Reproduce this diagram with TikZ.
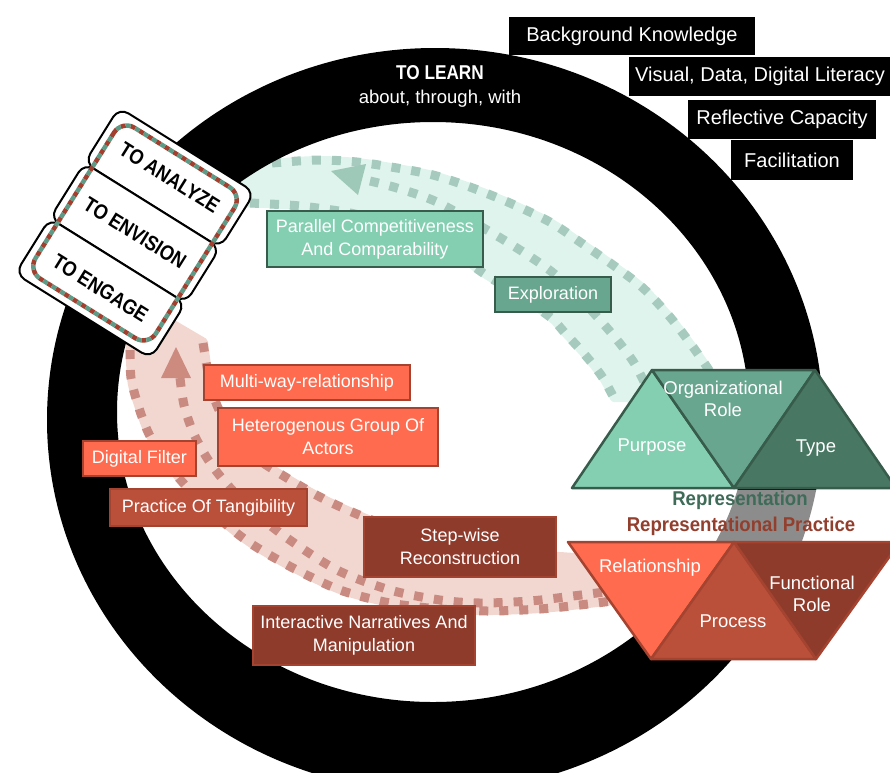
\documentclass[tikz,border=0pt]{standalone}
\usepackage{fontspec}
\setmainfont{Liberation Sans}
\newfontfamily\narrowfont{Liberation Sans}[FakeStretch=0.86]
\newfontfamily\repfont{Liberation Sans}[FakeStretch=0.93]
\usetikzlibrary{shapes.geometric}

\definecolor{cMintA}{HTML}{84CFB2}
\definecolor{cMintB}{HTML}{69A690}
\definecolor{cMintC}{HTML}{487763}
\definecolor{cGreenEdge}{HTML}{375C4C}
\definecolor{cCoral}{HTML}{FF6B4E}
\definecolor{cRust}{HTML}{BA4F3A}
\definecolor{cBrick}{HTML}{8F3B2C}
\definecolor{cRedEdge}{HTML}{A4432F}
\definecolor{cMintBand}{HTML}{DFF4EC}
\definecolor{cMintDot}{HTML}{A6CBBE}
\definecolor{cMintHead}{HTML}{9EC8B8}
\definecolor{cPinkBand}{HTML}{F2D7D0}
\definecolor{cPinkDot}{HTML}{C98B81}
\definecolor{cPinkHead}{HTML}{CD8B80}
\definecolor{cRepGreen}{HTML}{3F6B59}
\definecolor{cRepRed}{HTML}{933F2E}
\definecolor{cBadgeRed}{HTML}{A23F2E}
\definecolor{cBadgeGreen}{HTML}{5E9A86}

\begin{document}
\begin{tikzpicture}[x=1pt,y=-1pt,
  lbl/.style={font=\fontsize{18}{23}\selectfont, text=white, align=center,
              inner sep=0pt, line width=2.5pt},
  mintbox/.style={lbl, fill=cMintA, draw=cGreenEdge},
  sagebox/.style={lbl, fill=cMintB, draw=cGreenEdge},
  coralbox/.style={lbl, fill=cCoral, draw=cRedEdge},
  rustbox/.style={lbl, fill=cRust, draw=cRedEdge},
  brickbox/.style={lbl, fill=cBrick, draw=cRedEdge},
  blackbox/.style={fill=black, text=white, font=\fontsize{20}{24}\selectfont,
                   inner sep=0pt},
  trilbl/.style={font=\fontsize{18.5}{22}\selectfont, text=white, align=center,
                 inner sep=0pt},
  greentri/.style={draw=cGreenEdge, line width=2.5pt, line join=round},
  redtri/.style={draw=cRedEdge, line width=2.5pt, line join=round},
  mintdots/.style={draw=cMintDot, line width=9pt, dash pattern=on 9pt off 11pt},
  pinkdots/.style={draw=cPinkDot, line width=9pt, dash pattern=on 9pt off 11pt},
  badgebox/.style={draw=black, fill=white, line width=2pt, rounded corners=11pt,
                   minimum width=160pt, minimum height=65.3pt, inner sep=0pt,
                   transform shape,
                   font=\narrowfont\fontsize{21}{24}\selectfont\bfseries},
  badgedotA/.style={draw=cBadgeRed, line width=4.5pt, dash pattern=on 5pt off 5pt,
                    rounded corners=15pt},
  badgedotB/.style={draw=cBadgeGreen, line width=4.5pt, dash pattern=on 5pt off 5pt,
                    dash phase=5pt, rounded corners=15pt}
]
\useasboundingbox (0,0) rectangle (890,772);
\clip (0,0) rectangle (890,772);

% ---- green flow band (Representation -> badge)
\filldraw[fill=cMintBand, draw=cMintBand, line width=8pt, line join=round]
  plot[smooth] coordinates {(238,168) (273,163) (317,160) (357,162) (397,168)
       (433,175) (470,187) (510,203) (550,222) (580,242) (613,265) (643,288)
       (670,317) (693,347) (712,375) (724,400)}
  -- plot[smooth] coordinates {(614,398) (603,378) (591,362) (578,347) (565,333)
       (550,317) (515,293) (483,273) (445,246) (400,226) (350,213) (300,206)
       (238,203)} -- cycle;
\draw[mintdots] plot[smooth] coordinates {(272,163) (317,160) (357,162) (397,168)
       (433,175) (470,187) (510,203) (550,222) (580,242) (613,265) (643,288)
       (670,317) (693,347) (712,375) (724,400)};
\draw[mintdots] plot[smooth] coordinates {(370,181) (397,188) (437,202) (487,230)
       (520,250) (552,272) (578,296) (600,320) (613,335) (625,350) (636,366)
       (648,390)};
\draw[mintdots] plot[smooth] coordinates {(250,203) (300,206) (350,213) (400,226)
       (445,246) (483,273) (515,293) (550,317) (565,333) (578,347) (591,362)
       (603,378) (614,398)};
\fill[cMintHead] (331,171) -- (366,164) -- (358,195) -- cycle;

% ---- pink flow band (Representational Practice -> badge)
\filldraw[fill=cPinkBand, draw=cPinkBand, line width=8pt, line join=round]
  plot[smooth] coordinates {(129,322) (131,378) (138,405) (148,432) (163,458)
       (185,485) (215,515) (250,543) (293,568) (340,590) (390,603) (440,609)
       (490,611) (540,609) (580,605) (620,600)}
  -- plot[smooth] coordinates {(620,560) (560,556) (520,553) (450,543) (385,525)
       (352,512) (320,497) (287,478) (252,455) (230,430) (216,403) (209,378)
       (204,342)} -- (170,322) -- cycle;
\draw[pinkdots] plot[smooth] coordinates {(130,350) (131,378) (138,405) (148,432)
       (163,458) (185,485) (215,515) (250,543) (293,568) (340,590) (390,603)
       (440,609) (490,611) (540,609) (580,605) (620,600)};
\draw[pinkdots] plot[smooth] coordinates {(180,378) (184,405) (193,432) (207,458)
       (225,482) (252,510) (287,538) (337,570) (390,590) (440,600) (480,603)
       (530,601) (573,596) (620,590)};
\draw[pinkdots] plot[smooth] coordinates {(203,343) (209,378) (216,403) (230,430)
       (252,455) (287,478) (320,497) (352,512) (385,525) (410,533)};
\fill[cPinkHead] (176,347) -- (191,378) -- (161,378) -- cycle;

% ---- black ring
\fill[black, even odd rule]
  (435,420) ellipse [x radius=388pt, y radius=372pt]
  (433,412) ellipse [x radius=316pt, y radius=290pt];

\node[font=\narrowfont\fontsize{20}{24}\selectfont\bfseries, text=white]
  (learn) at (440,73) {TO LEARN};
\node[font=\fontsize{18.5}{22}\selectfont, text=white]
  (learnsub) at (440,99) {about, through, with};

% ---- label boxes
\node[mintbox, minimum width=216pt, minimum height=56pt] (parallel) at (375,239)
  {Parallel Competitiveness\\And Comparability};
\node[sagebox, minimum width=116pt, minimum height=35pt] (explore) at (553,294.5)
  {Exploration};
\node[coralbox, minimum width=206pt, minimum height=35pt] (multiway) at (307,382.5)
  {Multi-way-relationship};
\node[coralbox, minimum width=220pt, minimum height=58pt] (hetero) at (328,437)
  {Heterogenous Group Of\\Actors};
\node[coralbox, minimum width=113pt, minimum height=35pt] (digfilter) at (139.5,458.5)
  {Digital Filter};
\node[rustbox, minimum width=197pt, minimum height=37pt] (tangible) at (208.5,507.5)
  {Practice Of Tangibility};
\node[brickbox, minimum width=192pt, minimum height=60pt] (stepwise) at (460,547)
  {Step-wise\\Reconstruction};
\node[brickbox, minimum width=222pt, minimum height=59pt] (interact) at (364,635.5)
  {Interactive Narratives And\\Manipulation};

% ---- veil between the two triangle rows
\fill[white, opacity=0.55] (560,490) rectangle (890,541);

% ---- Representation triangles
\filldraw[greentri, fill=cMintA] (572,488) -- (652,370) -- (734,488) -- cycle;
\filldraw[greentri, fill=cMintB] (652,370) -- (815,370) -- (734,488) -- cycle;
\filldraw[greentri, fill=cMintC] (734,488) -- (815,370) -- (896,488) -- cycle;
\node[trilbl] (purpose) at (652,447) {Purpose};
\node[trilbl] (orgrole) at (723,399) {Organizational\\Role};
\node[trilbl] (type) at (816,448) {Type};

% ---- Representational Practice triangles
\filldraw[redtri, fill=cCoral] (568,542) -- (734,542) -- (651,659) -- cycle;
\filldraw[redtri, fill=cRust] (651,659) -- (734,542) -- (816,659) -- cycle;
\filldraw[redtri, fill=cBrick] (734,542) -- (900,542) -- (816,659) -- cycle;
\node[trilbl] (relation) at (650,568) {Relationship};
\node[trilbl] (process) at (733,621) {Process};
\node[trilbl] (funcrole) at (812,594) {Functional\\Role};

\node[font=\repfont\fontsize{20}{24}\selectfont\bfseries, text=cRepGreen]
  (rep) at (740,500) {Representation};
\node[font=\repfont\fontsize{20}{24}\selectfont\bfseries, text=cRepRed]
  (reppractice) at (741,526) {Representational Practice};

% ---- badge
\begin{scope}[shift={(135,233)}, rotate=-32]
  \node[badgebox] (analyze) at (0,-65.3) {TO ANALYZE};
  \node[badgebox] (envision) at (0,0) {TO ENVISION};
  \node[badgebox] (engage) at (0,65.3) {TO ENGAGE};
  \draw[badgedotA] (-71,-89) rectangle (71,89);
  \draw[badgedotB] (-71,-89) rectangle (71,89);
\end{scope}

% ---- competence boxes
\node[blackbox, minimum width=246pt, minimum height=38pt] (bgk) at (632,36)
  {Background Knowledge};
\node[blackbox, minimum width=263pt, minimum height=39pt] (literacy) at (760,76.5)
  {Visual, Data, Digital Literacy};
\node[blackbox, minimum width=188pt, minimum height=39pt] (reflect) at (782,119.5)
  {Reflective Capacity};
\node[blackbox, minimum width=122pt, minimum height=40pt] (facil) at (792,160)
  {Facilitation};
\end{tikzpicture}
\end{document}
